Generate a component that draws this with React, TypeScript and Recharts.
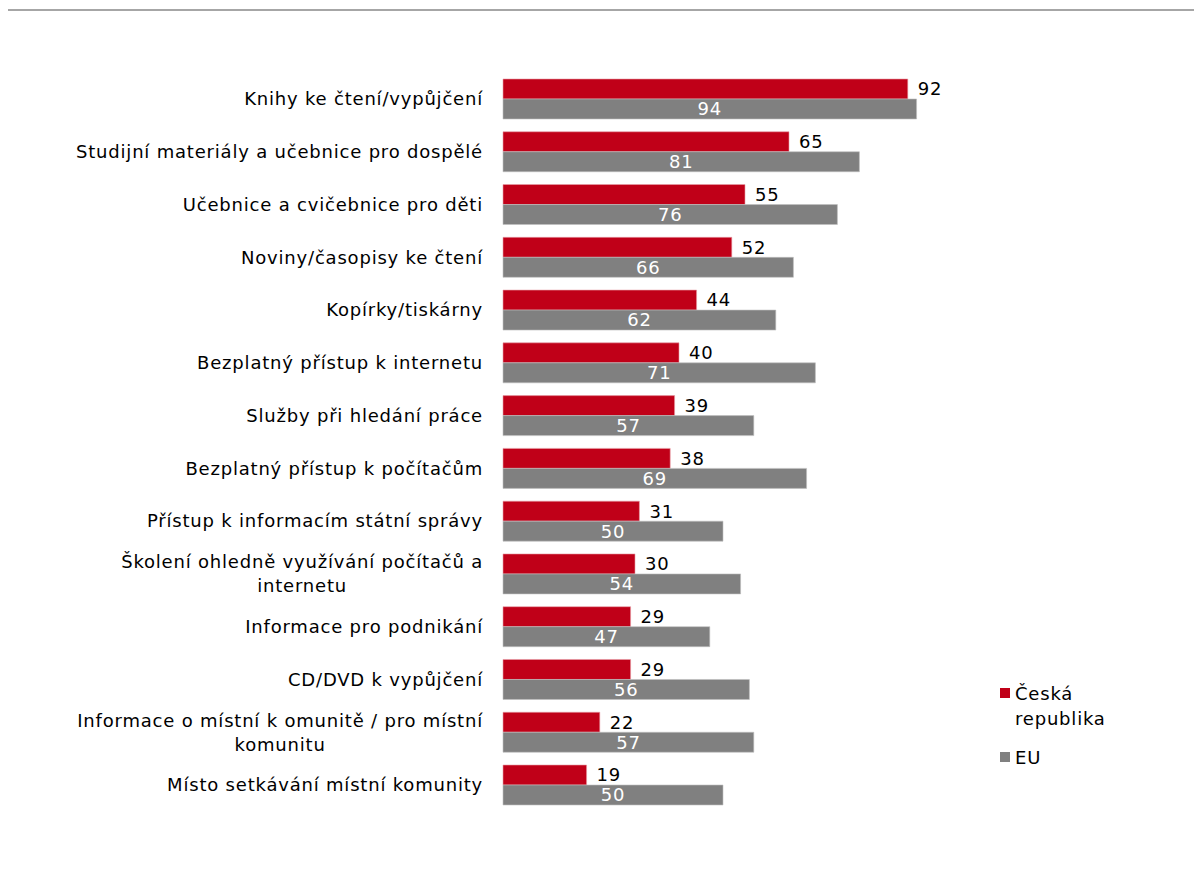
import React from 'react';
import { BarChart, Bar, XAxis, YAxis, LabelList, Legend } from 'recharts';

const categories: string[] = [
  'Knihy ke čtení/vypůjčení',
  'Studijní materiály a učebnice pro dospělé',
  'Učebnice a cvičebnice pro děti',
  'Noviny/časopisy ke čtení',
  'Kopírky/tiskárny',
  'Bezplatný přístup k internetu',
  'Služby při hledání práce',
  'Bezplatný přístup k počítačům',
  'Přístup k informacím státní správy',
  'Školení ohledně využívání počítačů a\ninternetu',
  'Informace pro podnikání',
  'CD/DVD k vypůjčení',
  'Informace o místní k omunitě / pro místní\nkomunitu',
  'Místo setkávání místní komunity',
];
const czValues: number[] = [92, 65, 55, 52, 44, 40, 39, 38, 31, 30, 29, 29, 22, 19];
const euValues: number[] = [94, 81, 76, 66, 62, 71, 57, 69, 50, 54, 47, 56, 57, 50];
const seriesNames = ['Česká republika', 'EU'];
const title = 'Obrázek 6: Význam služeb poskytovaných veřejnými knihovnami';

const data = categories.map((c, i) => ({ name: c, cz: czValues[i], eu: euValues[i] }));

const FONT = '"DejaVu Sans", Verdana, sans-serif';
const FS = 18;
const LS = 0.8;
const TITLE_FS = 19;

let ctx: CanvasRenderingContext2D | null = null;
function rawWidth(t: string, font: string, fallback: number): number {
  if (!ctx) {
    const c = document.createElement('canvas');
    ctx = c.getContext('2d');
  }
  if (!ctx) return t.length * fallback;
  ctx.font = font;
  return ctx.measureText(t).width;
}
function measure(t: string): number {
  return rawWidth(t, `${FS}px "DejaVu Sans"`, FS * 0.6) + LS * t.length;
}

const TITLE_W = 820;
function titleSpacing(): number {
  const w = rawWidth(title, `bold ${TITLE_FS}px "DejaVu Sans"`, TITLE_FS * 0.7);
  const s = (TITLE_W - w) / title.length;
  return isFinite(s) ? Math.max(0, Math.min(3, s)) : 1;
}

const CategoryTick = (props: any) => {
  const { y, payload } = props;
  const lines: string[] = String(payload.value).split('\n');
  const right = 483;
  if (lines.length === 1) {
    return (
      <text x={right} y={y} dy="0.35em" textAnchor="end" fontSize={FS} fontFamily={FONT} letterSpacing={LS} fill="#000">
        {lines[0]}
      </text>
    );
  }
  const w = measure(lines[0]);
  const cx = right - w / 2;
  const lh = 24;
  return (
    <text x={cx} y={y} textAnchor="middle" fontSize={FS} fontFamily={FONT} letterSpacing={LS} fill="#000">
      {lines.map((l, i) => (
        <tspan key={i} x={cx} y={y + (i - (lines.length - 1) / 2) * lh} dy="0.35em">
          {l}
        </tspan>
      ))}
    </text>
  );
};

const LegendContent = (props: any) => {
  const payload = [...(props.payload || [])].sort(
    (a: any, b: any) => seriesNames.indexOf(a.value) - seriesNames.indexOf(b.value)
  );
  return (
    <div style={{ fontFamily: FONT, fontSize: FS, letterSpacing: LS, color: '#000', lineHeight: '25px', textAlign: 'left' }}>
      {payload.map((p: any, i: number) => (
        <div key={i} style={{ display: 'flex', alignItems: 'flex-start', marginBottom: i === 0 ? 14 : 0 }}>
          <div style={{ width: 10, height: 10, background: p.color, marginTop: 7, marginRight: 5, flexShrink: 0 }} />
          <div style={{ width: 100 }}>{p.value}</div>
        </div>
      ))}
    </div>
  );
};

export default function App() {
  const ts = titleSpacing();
  return (
    <div style={{ position: 'relative', width: 1202, height: 888, marginLeft: -8, marginTop: -8, overflow: 'hidden', background: '#fff' }}>
      <div style={{ position: 'absolute', left: 5, top: 9, width: 1400, height: 1200, border: '2px solid #a6a6a6', boxSizing: 'border-box' }} />
      <div style={{ position: 'absolute', left: 0, top: 0 }}>
        <BarChart
          width={1202}
          height={888}
          layout="vertical"
          data={data}
          margin={{ top: 72.6, bottom: 76.6, left: 0, right: 259 }}
          barCategoryGap="12.1%"
          barGap={0}
        >
          <XAxis type="number" domain={[0, 100]} hide />
          <YAxis type="category" dataKey="name" width={503} axisLine={false} tickLine={false} tick={<CategoryTick />} interval={0} />
          <Legend
            layout="horizontal"
            align="center"
            verticalAlign="middle"
            content={<LegendContent />}
            wrapperStyle={{ position: 'absolute', left: 1000, top: 681, width: 160 }}
          />
          <Bar dataKey="cz" name={seriesNames[0]} fill="#c00018" stroke="#e8a0a8" strokeWidth={0.6} isAnimationActive={false}>
            <LabelList dataKey="cz" position="right" offset={10} fill="#000" fontSize={FS} fontFamily={FONT} letterSpacing={LS} />
          </Bar>
          <Bar dataKey="eu" name={seriesNames[1]} fill="#808080" stroke="#c0c0c0" strokeWidth={0.6} isAnimationActive={false}>
            <LabelList dataKey="eu" position="center" fill="#fff" fontSize={FS} fontFamily={FONT} letterSpacing={LS} />
          </Bar>
        </BarChart>
      </div>
      <svg width={1202} height={40} style={{ position: 'absolute', left: 0, top: 0, zIndex: 5 }}>
        <defs>
          <clipPath id="titleClip">
            <rect x={0} y={0} width={1202} height={7} />
          </clipPath>
        </defs>
        <g clipPath="url(#titleClip)">
          <g transform="translate(0,-23)">
            <text x={8} y={30} fontFamily={FONT} fontWeight="bold" fontSize={TITLE_FS} letterSpacing={ts} fill="#262626">
              {title}
            </text>
          </g>
        </g>
      </svg>
    </div>
  );
}
